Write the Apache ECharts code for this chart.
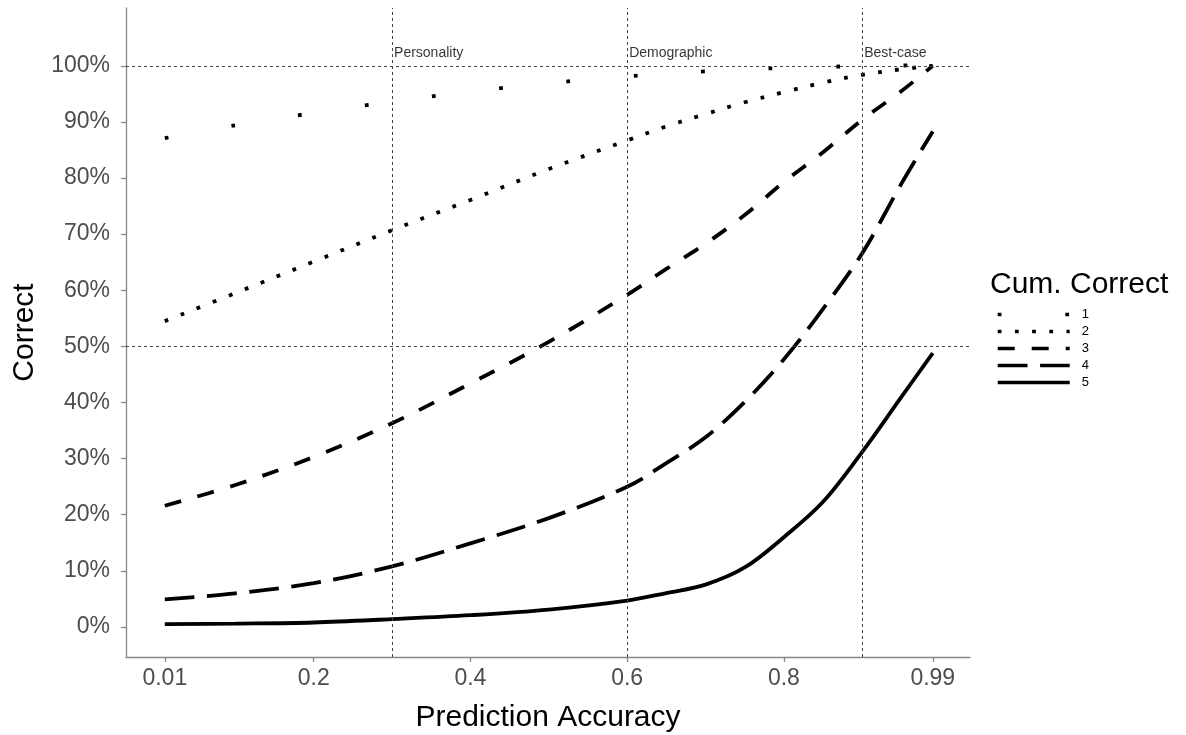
<!DOCTYPE html>
<html>
<head>
<meta charset="utf-8">
<script src="https://cdn.jsdelivr.net/npm/echarts@6/dist/echarts.min.js"></script>
<style>
  html, body { margin: 0; padding: 0; background: #ffffff; }
  #chart { width: 1186px; height: 735px; }
</style>
</head>
<body>
<div id="chart"></div>
<script>
// Prediction accuracy grid and cumulative share correct (in %) for each curve
const accuracy = [0.01, 0.1, 0.2, 0.3, 0.4, 0.5, 0.6, 0.65, 0.7, 0.75, 0.8, 0.85, 0.9, 0.95, 0.99];
const correct1 = [87.1, 89.4, 91.6, 93.6, 95.4, 96.9, 98.1, 98.6, 99.0, 99.4, 99.6, 99.8, 99.95, 100.05, 100.2];
const correct2 = [54.5, 59.5, 65.1, 70.7, 76.1, 81.6, 86.7, 89.2, 91.4, 93.5, 95.3, 97.0, 98.4, 99.4, 100.0];
const correct3 = [21.6, 25.3, 30.3, 36.3, 43.4, 50.8, 59.2, 63.8, 68.3, 73.4, 79.3, 84.6, 90.4, 95.5, 100.0];
const correct4 = [4.9, 6.0, 7.8, 10.8, 14.9, 19.4, 25.0, 29.2, 33.8, 40.1, 47.7, 56.7, 66.6, 79.0, 88.3];
const correct5 = [0.5, 0.6, 0.8, 1.4, 2.1, 3.1, 4.7, 6.05, 7.55, 10.6, 16.0, 22.3, 31.2, 41.0, 48.8];

const seriesNames = ['1', '2', '3', '4', '5'];
const xTicks = [0.01, 0.2, 0.4, 0.6, 0.8, 0.99];
const yTicks = [0, 10, 20, 30, 40, 50, 60, 70, 80, 90, 100];

// Reference lines and their annotations
const refX = [0.3, 0.6, 0.9];
const refY = [50, 100];
const refLabels = ['Personality', 'Demographic', 'Best-case'];
const refLabelY = 102.3;

const FONT = "'Liberation Sans', Arial, sans-serif";
const LW = 3.8;
const dashes = [
  [3.8, 63.8],   // 1: sparse dots
  [3.8, 13.4],   // 2: dotted
  [17, 17],      // 3: dashed
  [29.8, 12.6],  // 4: long dash
  'solid'        // 5: solid
];
const curves = [correct1, correct2, correct3, correct4, correct5];

const lineSeries = curves.map((vals, i) => ({
  name: seriesNames[i],
  type: 'line',
  data: accuracy.map((x, j) => [x, vals[j]]),
  showSymbol: false,
  symbol: 'none',
  smooth: 0.35,
  z: 3,
  lineStyle: { color: '#000000', width: LW, type: dashes[i], cap: 'butt' },
  itemStyle: { color: '#000000' }
}));

const refSeries = {
  name: 'refs',
  type: 'scatter',
  data: refX.map((x, i) => ({ value: [x, refLabelY], name: refLabels[i] })),
  symbolSize: 0,
  silent: true,
  z: 2,
  label: {
    show: true,
    position: 'right',
    distance: 2,
    formatter: p => p.name,
    fontFamily: FONT,
    fontSize: 14,
    color: '#000000'
  },
  markLine: {
    silent: true,
    symbol: 'none',
    label: { show: false },
    lineStyle: { color: '#444444', width: 1, type: [3, 3] },
    data: refX.map(x => ({ xAxis: x })).concat(refY.map(y => ({ yAxis: y })))
  }
};

const chart = echarts.init(document.getElementById('chart'), null, { renderer: 'canvas' });
chart.setOption({
  animation: false,
  backgroundColor: '#ffffff',
  grid: { left: 126, right: 216, top: 8, bottom: 78, containLabel: false, outerBoundsMode: 'none' },
  xAxis: {
    type: 'value',
    min: -0.0395,
    max: 1.0375,
    name: 'Prediction Accuracy',
    nameLocation: 'middle',
    nameGap: 46,
    nameTextStyle: { fontFamily: FONT, fontSize: 30, color: '#000000' },
    axisLine: { show: true, onZero: false, lineStyle: { color: '#888888', width: 1.3 } },
    axisTick: { show: true, length: 5, customValues: xTicks, lineStyle: { color: '#888888', width: 1.3 } },
    axisLabel: {
      customValues: xTicks,
      formatter: v => String(v),
      margin: 10,
      fontFamily: FONT,
      fontSize: 23,
      color: '#4d4d4d'
    },
    splitLine: { show: false }
  },
  yAxis: {
    type: 'value',
    min: -5.35,
    max: 110.3,
    name: 'Correct',
    nameLocation: 'middle',
    nameGap: 86,
    nameTextStyle: { fontFamily: FONT, fontSize: 30, color: '#000000' },
    axisLine: { show: true, onZero: false, lineStyle: { color: '#888888', width: 1.3 } },
    axisTick: { show: true, length: 5, customValues: yTicks, lineStyle: { color: '#888888', width: 1.3 } },
    axisLabel: {
      customValues: yTicks,
      formatter: v => v + '%',
      margin: 16,
      fontFamily: FONT,
      fontSize: 23,
      color: '#4d4d4d'
    },
    splitLine: { show: false }
  },
  legend: {
    data: seriesNames,
    orient: 'vertical',
    left: 996,
    top: 308,
    padding: 0,
    itemWidth: 72,
    itemHeight: 14,
    itemGap: 4,
    itemStyle: { opacity: 0 },
    lineStyle: { width: 3.4, type: 'inherit', cap: 'butt' },
    textStyle: { fontFamily: FONT, fontSize: 13, color: '#000000', padding: [0, 0, 0, 7] },
    selectedMode: false
  },
  graphic: [{
    type: 'text',
    left: 990,
    top: 270,
    style: { text: 'Cum. Correct', font: '30px ' + FONT, fill: '#000000' }
  }],
  series: [refSeries].concat(lineSeries)
});
</script>
</body>
</html>
